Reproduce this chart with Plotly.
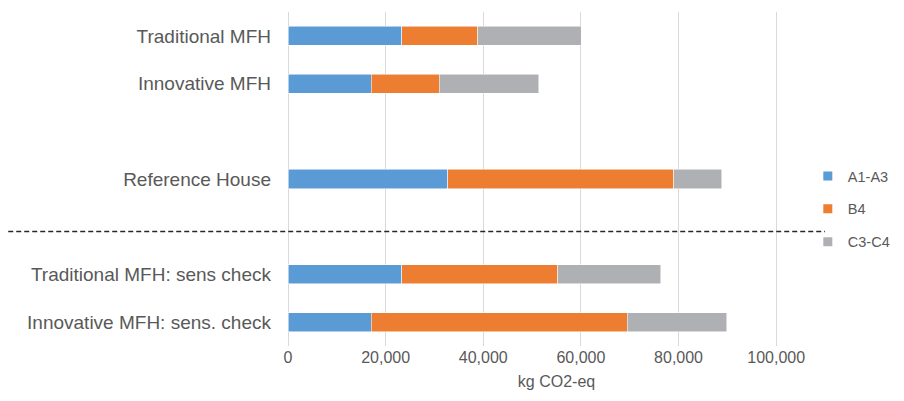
import plotly.graph_objects as go

categories = ["Traditional MFH", "Innovative MFH", " ", "Reference House", "  ",
              "Traditional MFH: sens check", "Innovative MFH: sens. check"]
a1_a3 = [23350, 17040, None, 32710, None, 23350, 17040]
b4 = [15520, 13960, None, 46350, None, 31890, 52430]
c3_c4 = [21230, 20400, None, 9790, None, 21150, 20400]

series_names = ["A1-A3", "B4", "C3-C4"]
series_vals = [a1_a3, b4, c3_c4]
colors = ["#5B9BD5", "#ED7D31", "#AFB0B3"]
x_ticks = [0, 20000, 40000, 60000, 80000, 100000]

fig = go.Figure()
for name, vals, col in zip(series_names, series_vals, colors):
    fig.add_trace(go.Bar(
        y=categories, x=vals, name=name, orientation="h",
        marker=dict(color=col, line=dict(color="rgba(255,255,255,0.7)", width=0.75)),
        showlegend=False,
    ))
# legend entries with small square swatches
for name, col in zip(series_names, colors):
    fig.add_trace(go.Scatter(
        x=[None], y=[None], mode="markers", name=name,
        marker=dict(symbol="square", size=9, color=col),
        legendgroup=name,
    ))

fig.update_layout(
    barmode="stack",
    bargap=0.6,
    width=896, height=393,
    margin=dict(l=280, r=79, t=4, b=55, autoexpand=False),
    plot_bgcolor="white", paper_bgcolor="white",
    font=dict(family="Liberation Sans, Arial, sans-serif", color="#595959"),
    legend=dict(
        x=0.968, xanchor="left", y=0.41, yanchor="middle",
        font=dict(size=14.5, color="#595959"),
        tracegroupgap=11, itemwidth=30, bgcolor="rgba(0,0,0,0)",
    ),
    xaxis=dict(
        range=[0, 110000], tickvals=x_ticks, tickformat=",",
        showgrid=True, gridcolor="#D9D9D9", gridwidth=1,
        zeroline=True, zerolinecolor="#D9D9D9", zerolinewidth=1,
        tickfont=dict(size=16, color="#595959"),
        title=dict(text="kg CO2-eq", font=dict(size=16, color="#595959"), standoff=10),
        ticks="", showline=False, automargin=False,
    ),
    yaxis=dict(
        autorange="reversed", type="category",
        categoryorder="array", categoryarray=categories,
        tickfont=dict(size=19, color="#595959"),
        ticks="", showgrid=False, ticklabelstandoff=16, automargin=False,
    ),
)

# dashed separator between reference and sensitivity checks
fig.add_shape(
    type="line", xref="paper", yref="y",
    x0=-0.521, x1=1.0, y0=4.1, y1=4.1,
    line=dict(color="#262626", width=1.5, dash="5px,3px"),
)

fig.write_html("out.html")
